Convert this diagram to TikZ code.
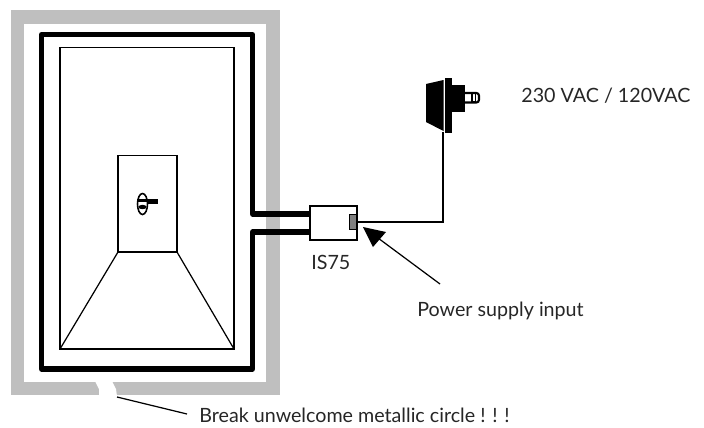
\documentclass[tikz,border=0pt]{standalone}
\usepackage{fontspec}
\setmainfont{Lato}
\usepackage{xcolor}
\usetikzlibrary{arrows.meta,positioning}
\definecolor{loopgrey}{gray}{0.75}
\tikzset{
    label text/.style={inner sep=0pt,anchor=base west,font=\fontsize{11.2pt}{13pt}\selectfont,text=black!85},
    box/.style={draw,line width=0.9pt,fill=white,inner sep=0pt},
    thin line/.style={line width=0.7pt},
    heavy line/.style={line width=2.9pt,line join=round}
}
\begin{document}
\begin{tikzpicture}[x=0.02cm,y=-0.02cm]
        \useasboundingbox (0,0) rectangle (704,427);

        % grey loop with its break
        \fill[loopgrey] (11,10) rectangle (280,395);
        \fill[white] (24,24) rectangle (266,382);
        \fill[white] (95,381) -- (99,389) -- (99,396) -- (117,396) -- (116,389) -- (112,381) -- cycle;

        % door frame
        \node[box,minimum width=46.5*0.02cm,minimum height=34*0.02cm] (is75) at (333.5,223) {};
        \coordinate (wiretop) at (252.5,214);
        \coordinate (wirebottom) at (252.5,232);
        \draw[heavy line] (is75.west |- wiretop) -- (wiretop) -- (252.5,34.5) -- (41.5,34.5) -- (41.5,369) -- (252.5,369) -- (wirebottom) -- (is75.west |- wirebottom);
        \draw[thin line] (60,47.5) rectangle (234,349);
        \draw[thin line] (118,155.5) rectangle (177,252);
        \draw[thin line] (118,252) -- (60,349);
        \draw[thin line] (177,252) -- (234,349);

        % key
        \draw[line width=0.9pt] (142.5,204) ellipse [x radius=5,y radius=10.5];
        \fill[black] (137,199) rectangle (158,202);
        \fill[black] (147,199) rectangle (158,204);
        \fill[black] (142.5,207) ellipse [x radius=4,y radius=2.2];

        % plug
        \fill[black] (426,84) -- (443.5,80) -- (443.5,131) -- (426,122) -- cycle;
        \fill[black] (445,78) rectangle (452,133);
        \fill[black] (452,85) rectangle (465,112);
        \draw[line width=1.2pt,rounded corners=1.5pt] (465,93) -- (479,93) -- (479,102.5) -- (465,102.5);
        \draw[line width=0.8pt] (472,93) rectangle (475.5,102);

        % supply wire and port
        \coordinate (plugbase) at (443,132);
        \node[draw,line width=1pt,fill=black!50,inner sep=0pt,minimum width=7*0.02cm,minimum height=15*0.02cm] (port) at (353,222) {};
        \draw[thin line] (port.east) -| (plugbase);

        % labels
        \node[label text] (is75label) at (311,269) {IS75};
        \node[label text] (mains) at (521,102) {230 VAC / 120VAC};
        \node[label text] (power) at (417,316) {Power supply input};
        \node[label text] (breaklabel) at (199,422.5) {Break unwelcome metallic circle ! ! !};

        % pointers
        \coordinate (powertail) at (440,284);
        \coordinate (porttip) at (363,227);
        \coordinate (loopgap) at (117,397);
        \coordinate (gaptail) at (187,414);
        \draw[thin line] (powertail) -- (378,238);
        \fill[black] (porttip) -- (386,232) -- (373,247) -- cycle;
        \draw[thin line] (loopgap) -- (gaptail);
    \end{tikzpicture}
\end{document}
